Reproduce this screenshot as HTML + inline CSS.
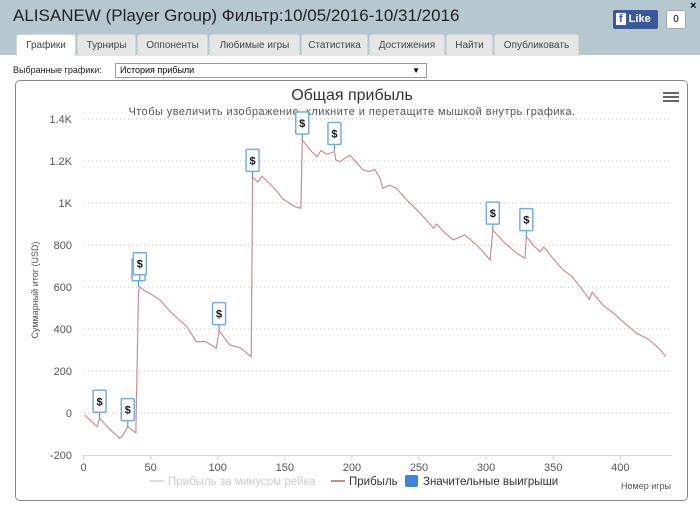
<!DOCTYPE html>
<html><head><meta charset="utf-8"><style>
body{margin:0;width:700px;height:514px;overflow:hidden;background:#fff;font-family:"Liberation Sans","Noto Sans CJK SC",sans-serif;position:relative}
#hdr{position:absolute;left:0;top:0;width:700px;height:55px;background:#b5c8cf}
#ttl{position:absolute;left:13px;top:6px;font-size:17px;color:#222}
.tab{position:absolute;top:34px;height:21px;background:#e6e6e6;border:1px solid #cfd6d8;border-bottom:none;border-radius:3px 3px 0 0;font-size:10px;color:#444;text-align:center;line-height:21px}
.tab.act{background:#fff}
#fb{position:absolute;left:613px;top:10px;width:45px;height:19px;background:#3b5998;border-radius:2px;color:#fff;font-size:11px;font-weight:bold;line-height:19px}
#cnt{position:absolute;left:666px;top:10px;width:18px;height:17px;border:1px solid #aaa;background:#fff;font-size:10px;text-align:center;line-height:17px;border-radius:2px}
#sel{position:absolute;left:115px;top:63px;width:306px;height:13px;border:1px solid #999;font-size:9px;line-height:13px;padding-left:4px;background:#fff}
#box{position:absolute;left:15px;top:80px;width:671px;height:419px;border:1px solid #888;border-radius:5px}
</style></head><body>
<div id="hdr"></div>
<div id="ttl">ALISANEW (Player Group) Фильтр:10/05/2016-10/31/2016</div>
<div style="position:absolute;left:690px;top:0;font-size:11px;font-weight:bold">×</div>
<div id="fb"><span style="background:#fff;color:#3b5998;padding:0 3px;margin:0 3px 0 3px">f</span>Like</div>
<div id="cnt">0</div>
<div class="tab act" style="left:16px;width:58px">Графики</div>
<div class="tab" style="left:77px;width:57px">Турниры</div>
<div class="tab" style="left:137px;width:69px">Оппоненты</div>
<div class="tab" style="left:209px;width:89px">Любимые игры</div>
<div class="tab" style="left:301px;width:65px">Статистика</div>
<div class="tab" style="left:369px;width:74px">Достижения</div>
<div class="tab" style="left:446px;width:45px">Найти</div>
<div class="tab" style="left:494px;width:83px">Опубликовать</div>
<div style="position:absolute;left:13px;top:65px;font-size:9px;color:#222">Выбранные графики:</div>
<div id="sel">История прибыли<span style="position:absolute;right:6px;font-size:8px">▼</span></div>
<div id="box"></div>
<svg id="chart" width="700" height="514" style="position:absolute;left:0;top:0"></svg>
<script>
const games=[1,10,12,20,27,29,33,36,39,41,42,46,49.5,57,65,77,84,91,99,101,109,117,125,126,130,133,141,149,157.6,162,163,170,174,177,181,184,187,188,191,198.6,203,208.5,213,217,221,223,228,233,241,251,261,263,269,275.5,284,293,303,305,313,323,329,330,335,340,343,350,357.5,364,370,377,379,387,395,402,412,420,424.6,430,434];
const profit=[-10,-65,-25,-80,-120,-110,-65,-80,-95,578,601,580,570,538,480,411,340,340,309,392,324,310,268,1122,1100,1128,1078,1017,982,975,1300,1245,1220,1250,1232,1237,1245,1205,1197,1228,1195,1157,1150,1160,1118,1070,1085,1071,1014,951,879,900,860,824,848,800,729,871,816,760,737,840,800,768,790,735,681,650,601,541,575,514,475,435,380,355,332,300,268];
const markerGames=[12,33,41,42,101,126,163,187,305,330];
const markerValues=[-25,-65,601,630,392,1122,1300,1250,871,840];
const yTicks=[-200,0,200,400,600,800,1000,1200,1400];
const yTickLabels=["-200","0","200","400","600","800","1K","1.2K","1.4K"];
const xTicks=[0,50,100,150,200,250,300,350,400];
const NS="http://www.w3.org/2000/svg";
const svg=document.getElementById('chart');
const X=g=>83.5+g*1.342;
const Y=v=>413-v*0.21;
function mk(t,a,p){const e=document.createElementNS(NS,t);for(const k in a)e.setAttribute(k,a[k]);(p||svg).appendChild(e);return e;}
let t;
t=mk('text',{x:352,y:100,'text-anchor':'middle','font-size':16,fill:'#333','font-family':'Liberation Sans, sans-serif'});t.textContent='Общая прибыль';


t=mk('text',{x:352,y:115,'text-anchor':'middle','font-size':11,'letter-spacing':'0.45',fill:'#555','font-family':'Liberation Sans, sans-serif'});t.textContent='Чтобы увеличить изображение, кликните и перетащите мышкой внутрь графика.';


const menu=mk('g',{});


for(let i=0;i<3;i++)mk('rect',{x:663,y:92+i*4,width:16,height:2,fill:'#666'},menu);
yTicks.forEach((v,i)=>{
  if(v!==-200){const l=mk('line',{x1:84,x2:672,y1:Y(v),y2:Y(v),stroke:'#bbb','stroke-dasharray':'1,3'});
  
  }
  const tx=mk('text',{x:72,y:Y(v)+4,'text-anchor':'end','font-size':11,fill:'#555','font-family':'Liberation Sans, sans-serif'});tx.textContent=yTickLabels[i];
  
  
});
const ax=mk('line',{x1:82,x2:672,y1:455.5,y2:455.5,stroke:'#ccd6eb'});


xTicks.forEach(g=>{
  mk('line',{x1:X(g),x2:X(g),y1:455,y2:460,stroke:'#ccd6eb'});
  const tx=mk('text',{x:X(g),y:471,'text-anchor':'middle','font-size':11,fill:'#555','font-family':'Liberation Sans, sans-serif'});tx.textContent=g;
  
  
});
t=mk('text',{x:38,y:290,'text-anchor':'middle','font-size':9,fill:'#555',transform:'rotate(-90 38 290)','font-family':'Liberation Sans, sans-serif'});t.textContent='Суммарный итог (USD)';


t=mk('text',{x:671,y:489,'text-anchor':'end','font-size':9,fill:'#555','font-family':'Liberation Sans, sans-serif'});t.textContent='Номер игры';


const line=mk('polyline',{points:games.map((g,i)=>X(g)+','+Y(profit[i])).join(' '),fill:'none',stroke:'#d08c8c','stroke-width':1.2});


markerGames.forEach((g,i)=>{
  const x=X(g),y=Y(markerValues[i]);
  const gg=mk('g',{});
  
  
  mk('line',{x1:x,x2:x,y1:y,y2:y-6,stroke:'#3d85d9'},gg);
  mk('rect',{x:x-6.5,y:y-28,width:13,height:22,fill:'#fff',stroke:'#7aaae8','stroke-width':1.5,rx:1},gg);
  const s=mk('text',{x:x,y:y-13,'text-anchor':'middle','font-size':11,'font-weight':'bold',fill:'#111','font-family':'Liberation Sans, sans-serif'},gg);s.textContent='$';
});
const leg=[[150,'#ddd','Прибыль за минусом рейка','#ccc'],[331,'#d08c8c','Прибыль','#333']];
leg.forEach(l=>{
  const gg=mk('g',{});
  
  
  mk('line',{x1:l[0],x2:l[0]+14,y1:481,y2:481,stroke:l[1],'stroke-width':2},gg);
  const tx=mk('text',{x:l[0]+18,y:485,'font-size':11.5,fill:l[3],'font-family':'Liberation Sans, sans-serif'},gg);tx.textContent=l[2];
});
const g3=mk('g',{});


mk('rect',{x:405,y:475,width:13,height:12,fill:'#3d85d9',rx:2},g3);
t=mk('text',{x:423,y:485,'font-size':11.5,fill:'#333','font-family':'Liberation Sans, sans-serif'},g3);t.textContent='Значительные выигрыши';
</script>
</body></html>
